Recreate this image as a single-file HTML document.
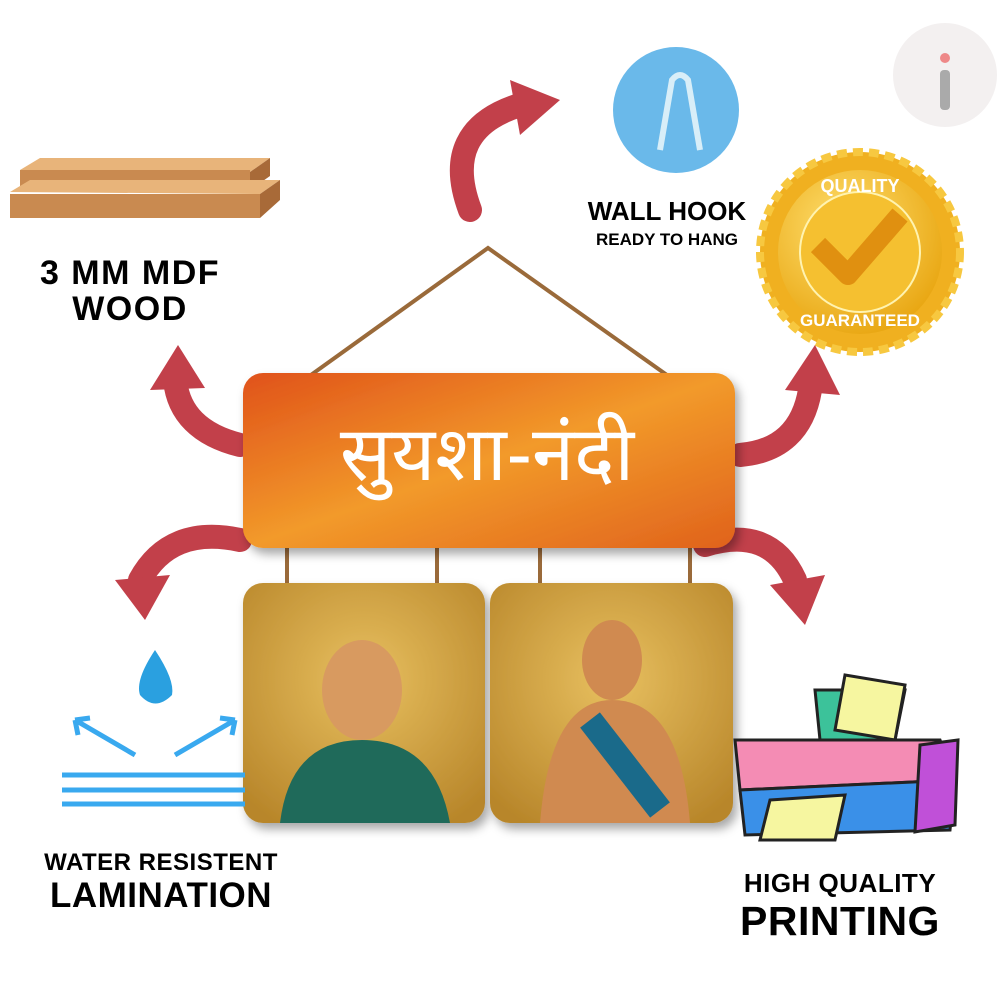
<!DOCTYPE html>
<html><head><meta charset="utf-8"><style>
html,body{margin:0;padding:0;background:#fff;}
svg{display:block}
</style></head><body>
<svg width="1000" height="1000" viewBox="0 0 1000 1000" xmlns="http://www.w3.org/2000/svg">
<defs>
<linearGradient id="sign" x1="0" y1="0" x2="1" y2="1">
<stop offset="0" stop-color="#e0521a"/><stop offset="0.5" stop-color="#f29a2a"/><stop offset="1" stop-color="#e0621c"/></linearGradient>
<radialGradient id="p1" cx="0.5" cy="0.4" r="0.7"><stop offset="0" stop-color="#e8c060"/><stop offset="1" stop-color="#b8862a"/></radialGradient>
<radialGradient id="gold" cx="0.4" cy="0.35" r="0.7"><stop offset="0" stop-color="#ffe070"/><stop offset="1" stop-color="#e8a510"/></radialGradient>
<filter id="sh" x="-10%" y="-10%" width="130%" height="130%"><feDropShadow dx="4" dy="6" stdDeviation="5" flood-opacity="0.35"/></filter>
</defs>
<circle cx="945" cy="75" r="52" fill="#f3f0f0"/>
<rect x="940" y="70" width="10" height="40" rx="4" fill="#aaa"/>
<circle cx="945" cy="58" r="5" fill="#e88"/>
<polygon points="20,170 40,158 270,158 250,172" fill="#e8b47a"/>
<rect x="20" y="170" width="230" height="20" fill="#c98a50"/>
<polygon points="250,172 270,158 270,176 250,190" fill="#a86a38"/>
<polygon points="10,192 30,180 280,180 260,194" fill="#e8b47a"/>
<rect x="10" y="194" width="250" height="24" fill="#c98a50"/>
<polygon points="260,194 280,180 280,200 260,218" fill="#a86a38"/>
<text x="130" y="284" font-family="Liberation Sans,sans-serif" font-weight="bold" font-size="34" letter-spacing="1.5" text-anchor="middle">3 MM MDF</text>
<text x="130" y="320" font-family="Liberation Sans,sans-serif" font-weight="bold" font-size="34" letter-spacing="1.5" text-anchor="middle">WOOD</text>
<circle cx="676" cy="110" r="63" fill="#6ab9ea"/>
<path d="M660,150 L672,80 Q680,70 688,80 L700,150" fill="none" stroke="#d8eef8" stroke-width="6"/>
<text x="667" y="220" font-family="Liberation Sans,sans-serif" font-weight="bold" font-size="26" text-anchor="middle">WALL HOOK</text>
<text x="667" y="245" font-family="Liberation Sans,sans-serif" font-weight="bold" font-size="17" text-anchor="middle">READY TO HANG</text>
<circle cx="860" cy="252" r="100" fill="#f0b020" stroke="#f7c840" stroke-width="8" stroke-dasharray="10 6"/>
<circle cx="860" cy="252" r="82" fill="url(#gold)"/>
<circle cx="860" cy="252" r="60" fill="#f5c030" stroke="#fff3b0" stroke-width="2"/>
<path d="M818,245 L848,275 L900,215" fill="none" stroke="#e09010" stroke-width="20" stroke-linejoin="round"/>
<text x="860" y="192" font-family="Liberation Sans,sans-serif" font-weight="bold" font-size="18" fill="#fff" text-anchor="middle">QUALITY</text>
<text x="860" y="326" font-family="Liberation Sans,sans-serif" font-weight="bold" font-size="17" fill="#fff" text-anchor="middle">GUARANTEED</text>
<g fill="none" stroke="#c2404a" stroke-width="24" stroke-linecap="round">
<path d="M470,210 Q440,130 520,105"/>
<path d="M240,445 Q180,430 175,380"/>
<path d="M740,455 Q800,450 810,390"/>
<path d="M240,540 Q170,525 140,580"/>
<path d="M705,545 Q770,525 795,580"/>
</g>
<g fill="#c2404a">
<polygon points="510,80 560,100 520,135"/>
<polygon points="150,390 178,345 205,388"/>
<polygon points="785,390 815,345 840,395"/>
<polygon points="115,580 145,620 170,575"/>
<polygon points="770,585 805,625 825,575"/>
</g>
<polyline points="290,390 488,248 688,390" fill="none" stroke="#9a6a3a" stroke-width="4"/>
<g stroke="#9a6a3a" stroke-width="4"><line x1="287" y1="530" x2="287" y2="598"/><line x1="437" y1="530" x2="437" y2="598"/><line x1="540" y1="530" x2="540" y2="598"/><line x1="690" y1="530" x2="690" y2="598"/></g>
<rect x="243" y="373" width="492" height="175" rx="20" fill="url(#sign)" filter="url(#sh)"/>
<text x="487" y="480" font-family="Liberation Sans,'DejaVu Sans',sans-serif" font-size="76" fill="#fff" text-anchor="middle">सुयशा-नंदी</text>
<rect x="243" y="583" width="242" height="240" rx="20" fill="url(#p1)" filter="url(#sh)"/>
<rect x="490" y="583" width="243" height="240" rx="20" fill="url(#p1)" filter="url(#sh)"/>
<ellipse cx="362" cy="690" rx="40" ry="50" fill="#d89a60"/>
<path d="M280,823 Q290,740 362,740 Q435,740 450,823 Z" fill="#1f6a5a"/>
<ellipse cx="612" cy="660" rx="30" ry="40" fill="#d08a50"/>
<path d="M540,823 Q550,700 612,700 Q680,700 690,823 Z" fill="#d08a50"/>
<path d="M590,720 L660,810" stroke="#1a6a8a" stroke-width="25"/>
<path d="M155,650 Q135,680 140,695 Q155,712 172,695 Q175,680 155,650 Z" fill="#2aa0e0"/>
<g stroke="#39a9ef" stroke-width="5" fill="none">
<path d="M75,720 L135,755 M75,720 L78,735 M75,720 L90,718"/>
<path d="M235,720 L175,755 M235,720 L232,735 M235,720 L220,718"/>
<line x1="62" y1="775" x2="245" y2="775"/><line x1="62" y1="790" x2="245" y2="790"/><line x1="62" y1="804" x2="245" y2="804"/>
</g>
<text x="161" y="870" font-family="Liberation Sans,sans-serif" font-weight="bold" font-size="24" letter-spacing="0.5" text-anchor="middle">WATER RESISTENT</text>
<text x="161" y="907" font-family="Liberation Sans,sans-serif" font-weight="bold" font-size="35" letter-spacing="0.5" text-anchor="middle">LAMINATION</text>
<polygon points="815,690 905,690 895,740 820,740" fill="#3cc29a" stroke="#222" stroke-width="3"/>
<polygon points="845,675 905,685 895,740 835,730" fill="#f6f6a0" stroke="#222" stroke-width="3"/>
<polygon points="735,740 940,740 955,780 740,790" fill="#f48cb4" stroke="#222" stroke-width="3"/>
<polygon points="740,790 955,780 950,830 745,835" fill="#3a90e8" stroke="#222" stroke-width="3"/>
<polygon points="920,745 958,740 955,825 915,832" fill="#c050d8" stroke="#222" stroke-width="3"/>
<polygon points="770,800 845,795 835,840 760,840" fill="#f6f6a0" stroke="#222" stroke-width="3"/>
<text x="840" y="892" font-family="Liberation Sans,sans-serif" font-weight="bold" font-size="26" letter-spacing="0.5" text-anchor="middle">HIGH QUALITY</text>
<text x="840" y="935" font-family="Liberation Sans,sans-serif" font-weight="bold" font-size="41" letter-spacing="0.5" text-anchor="middle">PRINTING</text>
</svg>
</body></html>
